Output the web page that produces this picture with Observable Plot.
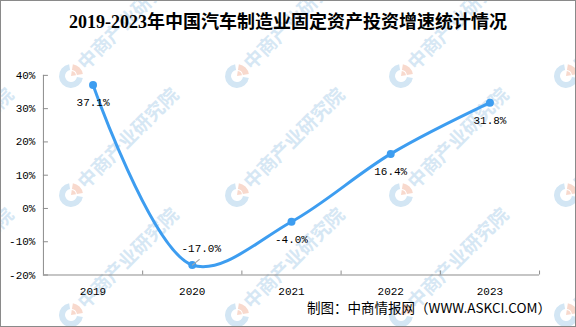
<!DOCTYPE html>
<html>
<head>
<meta charset="utf-8">
<script src="https://cdn.jsdelivr.net/npm/d3@7"></script>
<script src="https://cdn.jsdelivr.net/npm/@observablehq/plot@0.6"></script>
<style>
  html, body { margin: 0; padding: 0; background: #fff; }
  #wrap { position: relative; width: 576px; height: 327px; box-sizing: border-box; border: 1px solid #8a8a8a; overflow: hidden; background: #fff; }
  #wm { position: absolute; left: -1px; top: -1px; }
  #chart { position: absolute; left: -1px; top: -1px; }
  #title { position: absolute; left: -1px; top: 9px; width: 576px; text-align: center; font-family: "Liberation Serif", "Noto Sans CJK SC", serif; font-weight: bold; font-size: 18px; line-height: 24px; color: #000; }
  #caption { position: absolute; right: 24px; top: 297px; font-family: "Noto Sans CJK SC", sans-serif; font-size: 13.5px; line-height: 18px; color: #000; white-space: nowrap; }
</style>
</head>
<body>
<div id="wrap">
  <svg id="wm" width="576" height="327"></svg>
  <div id="chart"></div>
  <div id="title">2019-2023年中国汽车制造业固定资产投资增速统计情况</div>
  <div id="caption">制图：中商情报网（WWW.ASKCI.COM）</div>
</div>
<script>
// ---- data ----
const years = [2019, 2020, 2021, 2022, 2023];
const growth = [37.1, -17.0, -4.0, 16.4, 31.8];
const valueLabels = ["37.1%", "-17.0%", "-4.0%", "16.4%", "31.8%"];
const yTicks = [-20, -10, 0, 10, 20, 30, 40];
const yTickLabels = ["-20%", "-10%", "0%", "10%", "20%", "30%", "40%"];

const data = years.map((y, i) => ({year: y, value: growth[i], label: valueLabels[i]}));
const bounds = years.map(y => y + 0.5);
const lineColor = "#3d9df0";

// ---- watermark (decorative background) ----
(function () {
  const svg = d3.select("#wm");
  const xs = [-94, 71, 237, 401, 566];
  const ys = [76, 195, 315];
  for (const cy of ys) for (const cx of xs) {
    const g = svg.append("g").attr("transform", `translate(${cx},${cy})`);
    const arc = d3.arc().innerRadius(6).outerRadius(12);
    g.append("path").attr("d", arc({startAngle: Math.PI * 0.55, endAngle: Math.PI * 1.95})).attr("fill", "#d3e6f4");
    g.append("path").attr("d", arc({startAngle: Math.PI * 0.05, endAngle: Math.PI * 0.45})).attr("fill", "#f8d9cd");
    g.append("path").attr("d", d3.arc().innerRadius(0).outerRadius(5)({startAngle: Math.PI * 0.05, endAngle: Math.PI * 0.45})).attr("fill", "#f8d9cd");
    g.append("text").attr("transform", "rotate(-45)").attr("x", 14).attr("y", 7)
      .attr("font-family", "Noto Sans CJK SC").attr("font-weight", "bold").attr("font-size", 19)
      .attr("fill", "#d6e7f4").text("中商产业研究院");
  }
})();

// ---- chart ----
const leaderShape = {draw(context, l) { context.moveTo(0, 0); context.lineTo(0, -l); }};

const chart = Plot.plot({
  width: 576,
  height: 327,
  marginLeft: 43,
  marginRight: 36,
  marginTop: 75,
  marginBottom: 52,
  style: {background: "transparent", fontFamily: "Liberation Mono, DejaVu Sans Mono, monospace", fontSize: "11px", color: "#000", overflow: "visible"},
  x: {domain: [2018.5, 2023.5], axis: null},
  y: {domain: [-20, 40], axis: null},
  marks: [
    Plot.ruleY([-20], {stroke: "#8c8c8c", strokeWidth: 1}),
    Plot.ruleX([2018.5], {stroke: "#8c8c8c", strokeWidth: 1}),
    Plot.axisY({ticks: yTicks, anchor: "left", label: null, tickSize: 0, tickPadding: 8, tickFormat: d => yTickLabels[yTicks.indexOf(d)], fill: "#000", fontSize: 11}),
    Plot.axisY({ticks: yTicks, anchor: "left", label: null, tickSize: -5, stroke: "#8c8c8c", tickFormat: () => ""}),
    Plot.axisX({ticks: years, anchor: "bottom", label: null, tickSize: 0, tickPadding: 12, tickFormat: d => String(d), fill: "#000", fontSize: 11}),
    Plot.axisX({ticks: bounds, anchor: "bottom", label: null, tickSize: -4, stroke: "#8c8c8c", tickFormat: () => ""}),
    Plot.line(data, {x: "year", y: "value", curve: "catmull-rom", stroke: lineColor, strokeWidth: 3}),
    Plot.dot(data, {x: "year", y: "value", r: 4, fill: lineColor, stroke: null}),
    Plot.vector(data.filter(d => d.year === 2020), {x: "year", y: "value", length: 9, rotate: 52, anchor: "start", shape: leaderShape, stroke: "#a8a8a8", strokeWidth: 1}),
    Plot.text(data.filter(d => d.year !== 2020), {x: "year", y: "value", text: "label", dy: 18, fill: "#000", fontSize: 11}),
    Plot.text(data.filter(d => d.year === 2020), {x: "year", y: "value", text: "label", dx: 9, dy: -17, fill: "#000", fontSize: 11})
  ]
});
document.getElementById("chart").appendChild(chart);
</script>
</body>
</html>
